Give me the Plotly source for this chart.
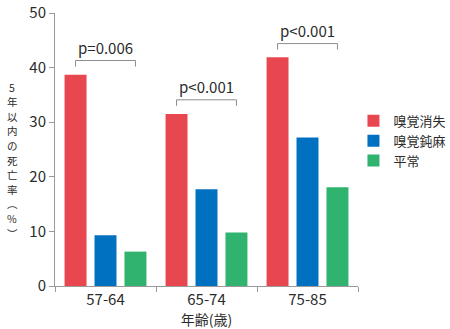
import plotly.graph_objects as go

categories = ["57-64", "65-74", "75-85"]
series_names = ["嗅覚消失", "嗅覚鈍麻", "平常"]
loss = [38.7, 31.5, 41.9]
hypo = [9.3, 17.7, 27.2]
normal = [6.3, 9.8, 18.1]
colors = ["#E8474F", "#0070C0", "#2FB36F"]
p_labels = ["p=0.006", "p<0.001", "p<0.001"]
bracket_y = [41.3, 34.1, 44.4]
bracket_leg = 1.1
y_title_chars = ["5", "年", "以", "内", "の", "死", "亡", "率", "︵", "%", "︶"]

FONT = "Noto Sans CJK JP"
TXT = "#2b2b2b"
AX = "#9a9a9a"

bargap = 0.11
bargroupgap = 0.267

W, H = 450, 329
ML, MR, MT, MB = 55, 92, 13, 43

fig = go.Figure()
for name, vals, c in zip(series_names, [loss, hypo, normal], colors):
    fig.add_trace(go.Bar(x=categories, y=vals, name=name, marker=dict(color=c, line=dict(width=0))))

slot = (1 - bargap) / 3
shapes = []
annotations = []
for i, (lab, by) in enumerate(zip(p_labels, bracket_y)):
    x0 = i - slot
    x1 = i + slot
    line = dict(color="#8c8c8c", width=1)
    shapes.append(dict(type="line", xref="x", yref="y", x0=x0, x1=x1, y0=by, y1=by, line=line))
    shapes.append(dict(type="line", xref="x", yref="y", x0=x0, x1=x0, y0=by, y1=by - bracket_leg, line=line))
    shapes.append(dict(type="line", xref="x", yref="y", x0=x1, x1=x1, y0=by, y1=by - bracket_leg, line=line))
    annotations.append(dict(x=i, y=by, xref="x", yref="y", text=lab, showarrow=False,
                            yanchor="bottom", xanchor="center", yshift=1,
                            font=dict(family=FONT, size=15, color=TXT)))

# vertical (stacked) y-axis title, one glyph per annotation
ph = H - MT - MB
pw = W - ML - MR
n = len(y_title_chars)
step = 14.6
first = 160 - (n - 1) * step / 2
for k, ch in enumerate(y_title_chars):
    ypx = first + k * step
    annotations.append(dict(x=(12 - ML) / pw, y=(H - MB - ypx) / ph, xref="paper", yref="paper",
                            text=ch, showarrow=False, xanchor="center", yanchor="middle",
                            font=dict(family=FONT, size=10.5, color=TXT)))

fig.update_layout(
    width=W, height=H,
    margin=dict(l=ML, r=MR, t=MT, b=MB, autoexpand=False),
    paper_bgcolor="white", plot_bgcolor="white",
    barmode="group", bargap=bargap, bargroupgap=bargroupgap,
    font=dict(family=FONT, color=TXT),
    shapes=shapes, annotations=annotations,
    legend=dict(x=0.985, y=0.66, xanchor="left", yanchor="top",
                font=dict(family=FONT, size=13, color=TXT),
                bgcolor="rgba(0,0,0,0)", tracegroupgap=0),
    xaxis=dict(type="category", tickson="boundaries", ticks="outside", ticklen=5,
               tickcolor=AX, showline=True, linecolor=AX, linewidth=1, automargin=False,
               tickfont=dict(family=FONT, size=15, color=TXT),
               title=dict(text="年齢(歳)", font=dict(family=FONT, size=14, color=TXT), standoff=0),
               showgrid=False),
    yaxis=dict(range=[0, 50], dtick=10, ticks="outside", ticklen=5, tickcolor=AX, automargin=False,
               showline=True, linecolor=AX, linewidth=1, showgrid=False, zeroline=False,
               tickfont=dict(family=FONT, size=15, color=TXT)),
)

fig.write_html("out.html")
